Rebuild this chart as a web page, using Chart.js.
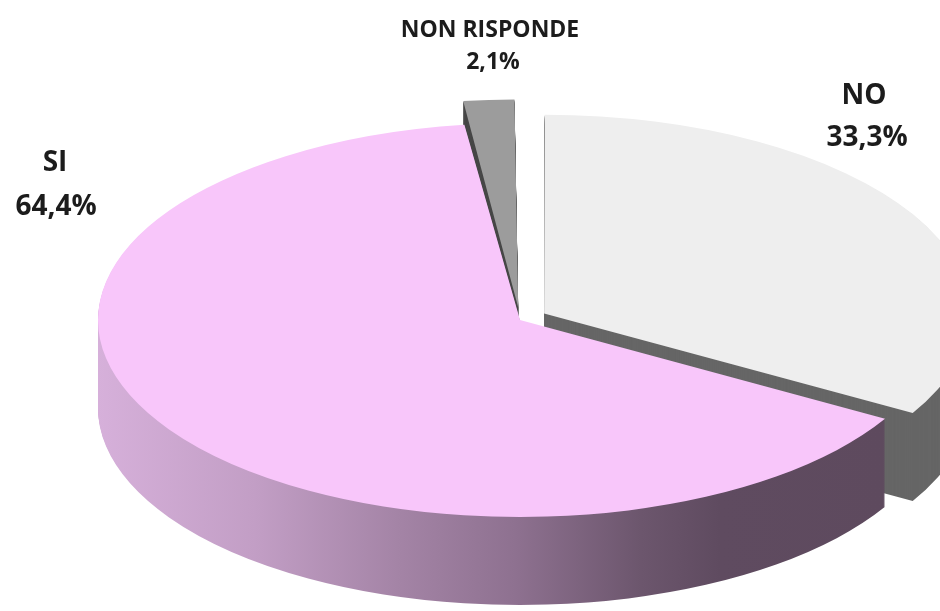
<!DOCTYPE html>
<html>
<head>
<meta charset="utf-8">
<title>Risposte</title>
<script src="https://cdn.jsdelivr.net/npm/chart.js@4.4.1/dist/chart.umd.min.js"></script>
<style>
  html, body { margin: 0; padding: 0; background: #fff; }
  canvas { display: block; }
</style>
</head>
<body>
<canvas id="pie" width="940" height="611"></canvas>
<script>
// -------------------------------
// Data
// -------------------------------
const labels = ["NO", "SI", "NON RISPONDE"];
const values = [33.3, 64.4, 2.1];

// top face and side colours, same order as labels
const topColors = ["#eeeeee", "#f8c6fa", "#9c9c9c"];
const sideColors = ["#666666", null, "#474747"]; // SI side gets a gradient

// where the flat chart is laid on the page (tilted ellipse)
const view = { cx: 520, cy: 320, rx: 422, ry: 197, depth: 88 };

// label anchors on the page
const labelAt = [
  { x: 864, y: 96, dy: 42, size: 28 },
  { x: 55, y: 163, dy: 44, size: 28 },
  { x: 490, y: 30, dy: 32, size: 23 },
];

const fmt = (v) => v.toFixed(1).replace(".", ",") + "%";

// -------------------------------
// Fake 3D: squash the pie and stack darker copies under it
// -------------------------------
const pie3d = {
  id: "pie3d",
  beforeDatasetsDraw(chart) {
    const ctx = chart.ctx;
    const arcs = chart.getDatasetMeta(0).data;
    const ccx = arcs[0].x;
    const ccy = arcs[0].y;
    const R = arcs[0].outerRadius;
    const sx = view.rx / R;
    const sy = view.ry / R;
    const toChartX = (X) => ccx + (X - view.cx) / sx;

    const grad = ctx.createLinearGradient(toChartX(98), 0, toChartX(885), 0);
    grad.addColorStop(0, "#d6b0da");
    grad.addColorStop(0.2, "#c29ec5");
    grad.addColorStop(0.38, "#a484a6");
    grad.addColorStop(0.53, "#8e7190");
    grad.addColorStop(0.69, "#6c566d");
    grad.addColorStop(0.79, "#5f4b60");
    grad.addColorStop(1, "#5e4a5e");

    const place = (dy) => {
      ctx.translate(view.cx, view.cy + dy);
      ctx.scale(sx, sy);
      ctx.translate(-ccx, -ccy);
    };

    // draw an arc element with another fill, without touching its options
    const drawWith = (arc, fill) => {
      const copy = Object.create(arc);
      copy.options = Object.assign({}, arc.options, { backgroundColor: fill });
      arc.draw.call(copy, ctx);
    };

    for (let d = view.depth; d >= 1; d--) {
      arcs.forEach((arc, i) => {
        ctx.save();
        place(d);
        drawWith(arc, i === 1 ? grad : sideColors[i]);
        ctx.restore();
      });
    }

    arcs.forEach((arc) => {
      ctx.save();
      place(0);
      arc.draw(ctx);
      ctx.restore();
    });

    return false;
  },
  afterDraw(chart) {
    const ctx = chart.ctx;
    ctx.save();
    ctx.fillStyle = "#1c1c1c";
    ctx.textAlign = "center";
    ctx.textBaseline = "middle";
    labels.forEach((name, i) => {
      const p = labelAt[i];
      ctx.font = "bold " + p.size + "px 'Open Sans', sans-serif";
      ctx.fillText(name, p.x, p.y);
      ctx.fillText(fmt(values[i]), p.x + (i === 1 ? 1 : 3), p.y + p.dy);
    });
    ctx.restore();
  },
};

new Chart(document.getElementById("pie"), {
  type: "pie",
  data: {
    labels: labels,
    datasets: [
      {
        data: values,
        backgroundColor: topColors,
        borderWidth: 0,
        offset: [66, 0, 64],
      },
    ],
  },
  options: {
    responsive: false,
    devicePixelRatio: 1,
    animation: false,
    radius: 250,
    layout: { padding: 0 },
    events: [],
    plugins: {
      legend: { display: false },
      tooltip: { enabled: false },
    },
  },
  plugins: [pie3d],
});
</script>
</body>
</html>
